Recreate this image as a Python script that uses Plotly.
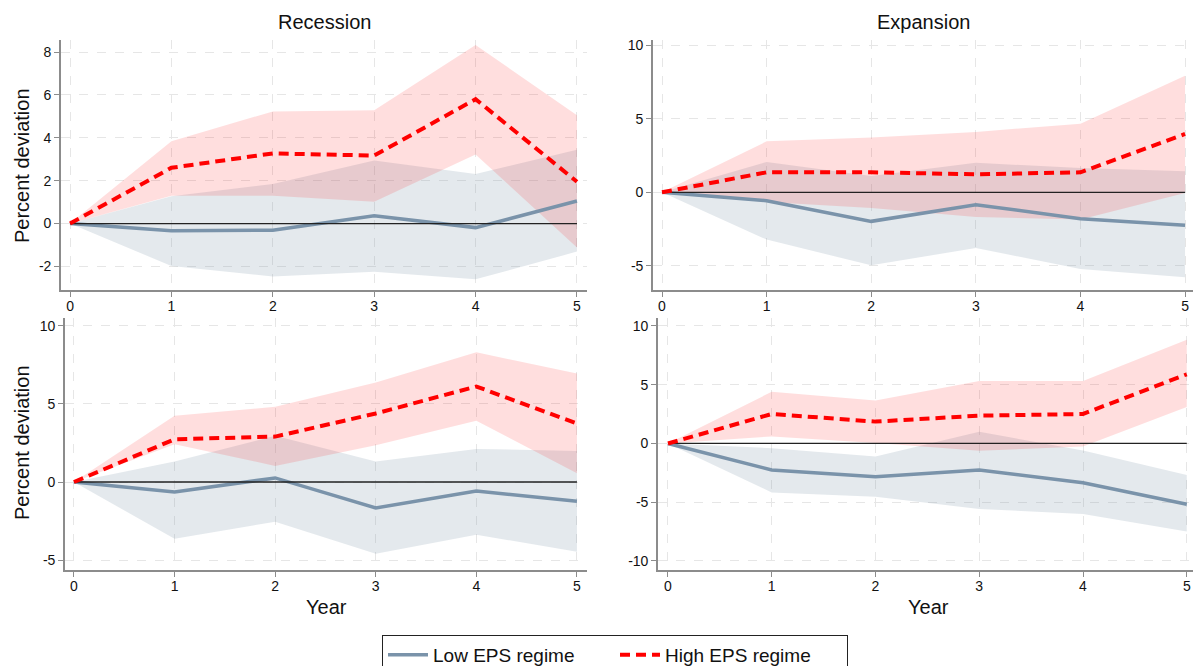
import plotly.graph_objects as go

years = [0, 1, 2, 3, 4, 5]
x_ticks = [0, 1, 2, 3, 4, 5]

# Recession, row 1
rec1_high = [0, 2.6, 3.27, 3.17, 5.8, 1.95]
rec1_high_up = [0, 3.84, 5.23, 5.28, 8.33, 5.05]
rec1_high_lo = [0, 1.3, 1.3, 1.02, 3.22, -1.12]
rec1_low = [0, -0.34, -0.31, 0.36, -0.19, 1.05]
rec1_low_up = [0, 1.27, 1.84, 2.94, 2.31, 3.44]
rec1_low_lo = [0, -1.98, -2.47, -2.25, -2.6, -1.31]
rec1_yticks = [-2, 0, 2, 4, 6, 8]

# Expansion, row 1
exp1_high = [0, 1.36, 1.36, 1.22, 1.36, 3.96]
exp1_high_up = [0, 3.46, 3.73, 4.1, 4.66, 7.92]
exp1_high_lo = [0, -0.65, -1.06, -1.67, -1.85, -0.05]
exp1_low = [0, -0.57, -1.97, -0.84, -1.79, -2.24]
exp1_low_up = [0, 2.06, 1.1, 2.0, 1.65, 1.43]
exp1_low_lo = [0, -3.21, -4.95, -3.78, -5.2, -5.77]
exp1_yticks = [-5, 0, 5, 10]

# Recession, row 2
rec2_high = [0, 2.74, 2.91, 4.39, 6.12, 3.75]
rec2_high_up = [0, 4.24, 4.82, 6.38, 8.31, 6.96]
rec2_high_lo = [0, 2.42, 1.03, 2.36, 3.92, 0.56]
rec2_low = [0, -0.64, 0.26, -1.67, -0.58, -1.24]
rec2_low_up = [0, 1.31, 2.96, 1.31, 2.12, 1.99]
rec2_low_lo = [0, -3.64, -2.55, -4.6, -3.38, -4.47]
rec2_yticks = [-5, 0, 5, 10]

# Expansion, row 2
exp2_high = [0, 2.51, 1.86, 2.37, 2.51, 5.89]
exp2_high_up = [0, 4.4, 3.66, 5.31, 5.31, 8.83]
exp2_high_lo = [0, 0.6, 0.03, -0.63, -0.26, 3.11]
exp2_low = [0, -2.26, -2.83, -2.26, -3.34, -5.17]
exp2_low_up = [0, -0.4, -1.11, 1.0, -0.6, -2.69]
exp2_low_lo = [0, -4.17, -4.54, -5.57, -6.0, -7.49]
exp2_yticks = [-10, -5, 0, 5, 10]

zero_line = [0, 0, 0, 0, 0, 0]

panels = [
    dict(xa="x", ya="y", high=rec1_high, hu=rec1_high_up, hl=rec1_high_lo,
         low=rec1_low, lu=rec1_low_up, ll=rec1_low_lo),
    dict(xa="x2", ya="y2", high=exp1_high, hu=exp1_high_up, hl=exp1_high_lo,
         low=exp1_low, lu=exp1_low_up, ll=exp1_low_lo),
    dict(xa="x3", ya="y3", high=rec2_high, hu=rec2_high_up, hl=rec2_high_lo,
         low=rec2_low, lu=rec2_low_up, ll=rec2_low_lo),
    dict(xa="x4", ya="y4", high=exp2_high, hu=exp2_high_up, hl=exp2_high_lo,
         low=exp2_low, lu=exp2_low_up, ll=exp2_low_lo),
]

GREY_LINE = "#7a93aa"
GREY_FILL = "rgba(120,145,165,0.20)"
RED_LINE = "#ff0000"
RED_FILL = "rgba(255,0,0,0.13)"

fig = go.Figure()
for i, p in enumerate(panels):
    first = i == 0
    fig.add_trace(go.Scatter(x=years + years[::-1], y=p["lu"] + p["ll"][::-1],
                             fill="toself", fillcolor=GREY_FILL, line=dict(width=0),
                             mode="lines", showlegend=False, hoverinfo="skip",
                             xaxis=p["xa"], yaxis=p["ya"]))
    fig.add_trace(go.Scatter(x=years + years[::-1], y=p["hu"] + p["hl"][::-1],
                             fill="toself", fillcolor=RED_FILL, line=dict(width=0),
                             mode="lines", showlegend=False, hoverinfo="skip",
                             xaxis=p["xa"], yaxis=p["ya"]))
    fig.add_trace(go.Scatter(x=years, y=p["low"], mode="lines",
                             line=dict(color=GREY_LINE, width=3.5),
                             name="Low EPS regime", showlegend=first,
                             xaxis=p["xa"], yaxis=p["ya"]))
    fig.add_trace(go.Scatter(x=years, y=zero_line, mode="lines",
                             line=dict(color="#222222", width=1.3),
                             showlegend=False, hoverinfo="skip",
                             xaxis=p["xa"], yaxis=p["ya"]))
    fig.add_trace(go.Scatter(x=years, y=p["high"], mode="lines",
                             line=dict(color=RED_LINE, width=4, dash="10px,6px"),
                             name="High EPS regime", showlegend=first,
                             xaxis=p["xa"], yaxis=p["ya"]))

W, H = 1193, 666
FONT = "Liberation Sans, Arial, Helvetica, sans-serif"

def px_x(a, b):
    return [a / W, b / W]

def px_y(top, bottom):
    return [1 - bottom / H, 1 - top / H]

axis_common = dict(showline=True, linecolor="#8c8c8c", linewidth=1.6,
                   ticks="outside", ticklen=5, tickcolor="#8c8c8c", tickwidth=1.2,
                   showgrid=True, gridcolor="#e6e6e6", griddash="dash", gridwidth=1,
                   zeroline=False, tickfont=dict(size=14, color="#111111", family=FONT))

def yt(vals):
    return dict(tickvals=vals, ticktext=[str(v) for v in vals])

xt = dict(tickvals=x_ticks, ticktext=[str(v) for v in x_ticks], ticklabelstandoff=-3)

fig.update_layout(
    xaxis=dict(domain=px_x(61, 587), range=[-0.089, 5.099], anchor="y", **xt, **axis_common),
    yaxis=dict(domain=px_y(40, 290), range=[-3.1, 8.56], anchor="x", **yt(rec1_yticks), **axis_common),
    xaxis2=dict(domain=px_x(653, 1193), range=[-0.086, 5.076], anchor="y2", **xt, **axis_common),
    yaxis2=dict(domain=px_y(40, 290), range=[-6.63, 10.34], anchor="x2", **yt(exp1_yticks), **axis_common),
    xaxis3=dict(domain=px_x(65, 587), range=[-0.089, 5.10], anchor="y3", **xt, **axis_common),
    yaxis3=dict(domain=px_y(318, 570), range=[-5.64, 10.51], anchor="x3", **yt(rec2_yticks), **axis_common),
    xaxis4=dict(domain=px_x(658, 1193), range=[-0.096, 5.06], anchor="y4", **xt, **axis_common),
    yaxis4=dict(domain=px_y(318, 570), range=[-10.77, 10.68], anchor="x4", **yt(exp2_yticks), **axis_common),
)

annotations = [
    dict(text="Recession", x=324 / W, y=1 - 22 / H),
    dict(text="Expansion", x=923 / W, y=1 - 22 / H),
    dict(text="Year", x=326 / W, y=1 - 607 / H),
    dict(text="Year", x=928 / W, y=1 - 607 / H),
    dict(text="Percent deviation", x=22 / W, y=1 - 166 / H, textangle=-90),
    dict(text="Percent deviation", x=22 / W, y=1 - 443 / H, textangle=-90),
]
for a in annotations:
    a.update(xref="paper", yref="paper", showarrow=False, xanchor="center", yanchor="middle",
             font=dict(size=20, color="#111111", family=FONT))
fig.update_layout(annotations=annotations)

fig.update_layout(
    width=W, height=H,
    margin=dict(l=0, r=0, t=0, b=0, autoexpand=False),
    paper_bgcolor="white", plot_bgcolor="white",
    showlegend=True,
    legend=dict(orientation="h", x=615 / W, xanchor="center", y=1 - 635 / H, yanchor="top",
                bordercolor="#222222", borderwidth=1, bgcolor="white",
                font=dict(size=19, color="#111111", family=FONT),
                traceorder="normal", itemwidth=40, entrywidth=177),
)

fig.write_html("out.html", config={"displayModeBar": False},
               post_script="document.body.style.margin='0';document.body.style.overflow='hidden';")
